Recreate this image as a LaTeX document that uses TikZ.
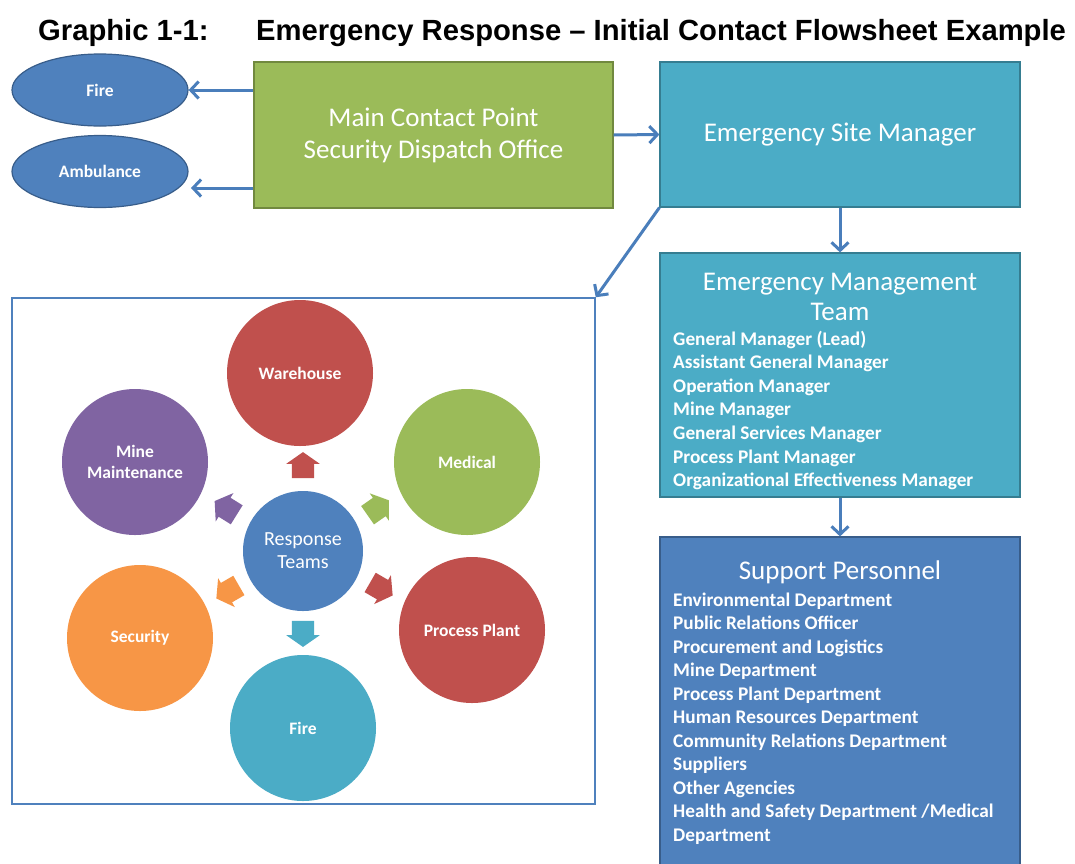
\documentclass[tikz,border=0pt]{standalone}
\usepackage{fontspec}
\setmainfont{Carlito}
\newfontfamily\titlefont{Liberation Sans}
\usetikzlibrary{shapes.geometric,shapes.arrows,arrows.meta}
\definecolor{cblue}{HTML}{4F81BD}
\definecolor{cblueD}{HTML}{385D8A}
\definecolor{cgreen}{HTML}{9BBB59}
\definecolor{cgreenD}{HTML}{71893F}
\definecolor{cteal}{HTML}{4BACC6}
\definecolor{ctealD}{HTML}{357D91}
\definecolor{cred}{HTML}{C0504D}
\definecolor{cpurple}{HTML}{8064A2}
\definecolor{corange}{HTML}{F79646}
\definecolor{cline}{HTML}{4A7EBB}
\begin{document}
\begin{tikzpicture}[x=1pt,y=-1pt,
  ttl/.style={anchor=base west,inner sep=0,font=\titlefont\bfseries\fontsize{29.2}{34}\selectfont},
  ell/.style={ellipse,fill=cblue,draw=cblueD,line width=1.2pt,minimum width=176pt,minimum height=72pt,inner sep=0,text=white,font=\bfseries\fontsize{17.5}{21}\selectfont},
  bigbox/.style={rectangle,line width=1.2pt,inner sep=0,text=white,align=center,font=\fontsize{27}{32}\selectfont},
  head/.style={inner sep=0,text=white,align=center,font=\fontsize{27}{30}\selectfont},
  item/.style={anchor=base west,inner sep=0,text=white,font=\bfseries\fontsize{19.3}{22}\selectfont},
  conn/.style={draw=cline,line width=3pt,-{Straight Barb[length=8pt,width=17pt]}},
  circ/.style={circle,inner sep=0,minimum size=146pt,text=white,align=center,font=\bfseries\fontsize{17.5}{21}\selectfont},
  blk/.style={single arrow,inner xsep=0,inner ysep=11pt,minimum height=26pt,single arrow head extend=5.5pt,single arrow tip angle=110,fill=#1},
]
\useasboundingbox[fill=white] (0,0) rectangle (1075,863);
% title
\node[ttl] (t1) at (38,40) {Graphic 1-1:};
\node[ttl] (t2) at (256,40) {Emergency Response – Initial Contact Flowsheet Example};
% top row
\node[ell] (fire) at (100,90) {Fire};
\node[ell] (amb) at (100,171.5) {Ambulance};
\node[bigbox,fill=cgreen,draw=cgreenD,minimum width=359pt,minimum height=146pt] (mcp) at (433.5,135) {Main Contact Point\\Security Dispatch Office};
\node[bigbox,fill=cteal,draw=ctealD,minimum width=360pt,minimum height=145pt] (esm) at (840,134.5) {Emergency Site Manager};
% EMT
\node[bigbox,fill=cteal,draw=ctealD,minimum width=360pt,minimum height=244pt] (emt) at (840,375) {};
\node[head] (emtT) at (840,297) {Emergency Management\\Team};
\foreach \t [count=\i] in {General Manager (Lead),Assistant General Manager,Operation Manager,Mine Manager,General Services Manager,Process Plant Manager,Organizational Effectiveness Manager}
  \node[item] (emt\i) at (673,{345+23.6*(\i-1)}) {\t};
% Support
\node[bigbox,fill=cblue,draw=cblueD,minimum width=360pt,minimum height=333pt] (sup) at (840,703.5) {};
\node[head] (supT) at (840,572) {Support Personnel};
\foreach \t [count=\i] in {Environmental Department,Public Relations Officer,Procurement and Logistics,Mine Department,Process Plant Department,Human Resources Department,Community Relations Department,Suppliers,Other Agencies,Health and Safety Department /Medical,Department}
  \node[item] (sup\i) at (673,{606+23.5*(\i-1)}) {\t};
% response teams box
\node[rectangle,draw=cblue,line width=1.5pt,minimum width=583pt,minimum height=506pt] (rbox) at (303.5,551) {};
\node[circ,fill=cred] (wh) at (300,373) {Warehouse};
\node[circ,fill=cgreen] (med) at (467,462) {Medical};
\node[circ,fill=cred] (pp) at (472,630) {Process Plant};
\node[circ,fill=cteal] (fr) at (303,728) {Fire};
\node[circ,fill=corange] (sec) at (140,638) {Security};
\node[circ,fill=cpurple] (mm) at (135,462) {Mine\\Maintenance};
\node[circle,inner sep=0,minimum size=120pt,fill=cblue,text=white,align=center,font=\fontsize{20}{23}\selectfont] (rt) at (303,551) {Response\\Teams};
\node[blk=cred,rotate=90] (a1) at (303,469) {};
\node[blk=cgreen,rotate=35] (a2) at (375,510) {};
\node[blk=cred,rotate=-30] (a3) at (378,587) {};
\node[blk=cteal,rotate=-90] (a4) at (303,630) {};
\node[blk=corange,rotate=210] (a5) at (231,590) {};
\node[blk=cpurple,rotate=148] (a6) at (229,510) {};
% connectors
\coordinate (ambtip) at (191,188);
\draw[conn] (mcp.west |- fire) -- (fire.east);
\draw[conn] (mcp.west |- ambtip) -- (ambtip);
\draw[conn] (mcp.east) -- (esm.west);
\draw[conn] (esm.south) -- (emt.north);
\draw[conn] (emt.south) -- (sup.north);
\draw[conn] (esm.south west) -- (rbox.north east);
\end{tikzpicture}
\end{document}
